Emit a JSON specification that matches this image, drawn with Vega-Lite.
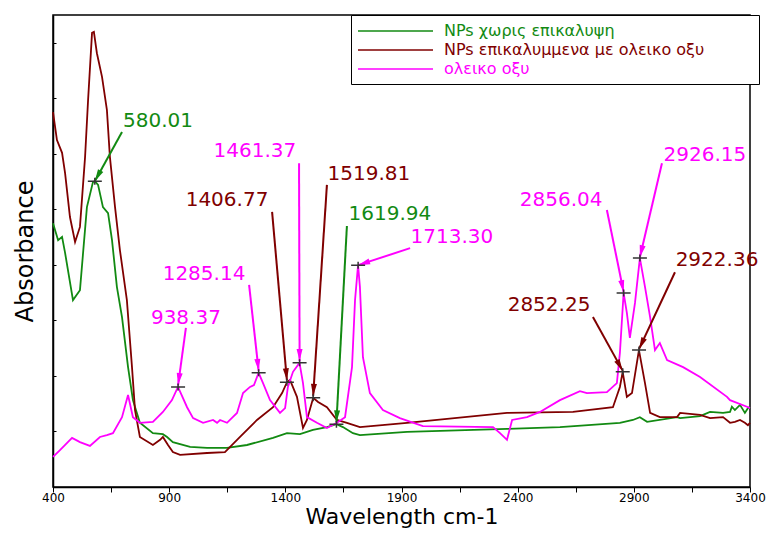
{
  "$schema": "https://vega.github.io/schema/vega-lite/v6.json",
  "width": 697,
  "height": 472,
  "autosize": {"type": "none"},
  "padding": {"left": 53, "top": 15, "right": 21, "bottom": 47},
  "background": "white",
  "config": {
    "font": "DejaVu Sans",
    "view": {"stroke": "black", "strokeWidth": 1.5},
    "axis": {"grid": false, "domainColor": "black", "domainWidth": 1.5, "tickColor": "black", "labelColor": "black", "titleColor": "black", "titleFontWeight": "normal", "labelFont": "DejaVu Sans", "titleFont": "DejaVu Sans"}
  },
  "datasets": {
    "green": [
      {"x": 400, "y": 55.9}, {"x": 422, "y": 52.3}, {"x": 439, "y": 53.0}, {"x": 452, "y": 49.6}, {"x": 486, "y": 39.6},
      {"x": 516, "y": 41.7}, {"x": 546, "y": 59.3}, {"x": 572, "y": 64.6}, {"x": 580, "y": 64.8}, {"x": 594, "y": 64.0},
      {"x": 615, "y": 59.3}, {"x": 637, "y": 58.0}, {"x": 654, "y": 52.3}, {"x": 675, "y": 42.4}, {"x": 697, "y": 36.0},
      {"x": 723, "y": 25.4}, {"x": 744, "y": 18.4}, {"x": 774, "y": 13.6}, {"x": 830, "y": 11.4}, {"x": 873, "y": 11.2},
      {"x": 891, "y": 10.6}, {"x": 916, "y": 9.5}, {"x": 990, "y": 8.5}, {"x": 1063, "y": 8.3}, {"x": 1149, "y": 8.3},
      {"x": 1235, "y": 8.9}, {"x": 1347, "y": 10.4}, {"x": 1407, "y": 11.4}, {"x": 1463, "y": 11.2}, {"x": 1519, "y": 12.1},
      {"x": 1579, "y": 12.7}, {"x": 1620, "y": 13.3}, {"x": 1648, "y": 12.7}, {"x": 1691, "y": 11.4}, {"x": 1721, "y": 11.0},
      {"x": 1924, "y": 11.7}, {"x": 2354, "y": 12.3}, {"x": 2582, "y": 12.7}, {"x": 2840, "y": 13.6}, {"x": 2896, "y": 14.2},
      {"x": 2926, "y": 14.8}, {"x": 2957, "y": 13.8}, {"x": 3086, "y": 14.8}, {"x": 3099, "y": 14.6}, {"x": 3185, "y": 15.0},
      {"x": 3228, "y": 15.9}, {"x": 3284, "y": 15.7}, {"x": 3314, "y": 15.9}, {"x": 3322, "y": 17.0}, {"x": 3335, "y": 16.3},
      {"x": 3357, "y": 17.4}, {"x": 3378, "y": 15.7}, {"x": 3391, "y": 16.7}, {"x": 3400, "y": 17.0}
    ],
    "maroon": [
      {"x": 400, "y": 79.4}, {"x": 417, "y": 73.5}, {"x": 439, "y": 70.8}, {"x": 452, "y": 66.5}, {"x": 473, "y": 57.2},
      {"x": 495, "y": 51.9}, {"x": 516, "y": 55.1}, {"x": 538, "y": 69.9}, {"x": 551, "y": 82.0}, {"x": 568, "y": 96.2},
      {"x": 576, "y": 96.4}, {"x": 589, "y": 91.9}, {"x": 611, "y": 86.9}, {"x": 632, "y": 79.9}, {"x": 645, "y": 69.9},
      {"x": 667, "y": 59.3}, {"x": 688, "y": 50.2}, {"x": 718, "y": 39.6}, {"x": 740, "y": 25.4}, {"x": 753, "y": 16.3},
      {"x": 774, "y": 10.6}, {"x": 830, "y": 8.9}, {"x": 861, "y": 10.0}, {"x": 873, "y": 10.6}, {"x": 895, "y": 8.9},
      {"x": 916, "y": 7.4}, {"x": 947, "y": 6.8}, {"x": 1063, "y": 7.2}, {"x": 1140, "y": 7.4}, {"x": 1205, "y": 10.6},
      {"x": 1278, "y": 14.2}, {"x": 1347, "y": 16.9}, {"x": 1386, "y": 19.9}, {"x": 1407, "y": 22.2}, {"x": 1420, "y": 22.7},
      {"x": 1450, "y": 19.1}, {"x": 1476, "y": 12.5}, {"x": 1493, "y": 14.2}, {"x": 1520, "y": 18.9}, {"x": 1541, "y": 18.0},
      {"x": 1579, "y": 16.9}, {"x": 1622, "y": 14.2}, {"x": 1665, "y": 13.6}, {"x": 1721, "y": 12.7}, {"x": 1924, "y": 13.6},
      {"x": 2354, "y": 15.7}, {"x": 2638, "y": 15.9}, {"x": 2810, "y": 16.9}, {"x": 2840, "y": 21.2}, {"x": 2852, "y": 24.4},
      {"x": 2870, "y": 19.1}, {"x": 2892, "y": 19.9}, {"x": 2922, "y": 29.0}, {"x": 2948, "y": 22.0}, {"x": 2970, "y": 15.7},
      {"x": 3012, "y": 14.8}, {"x": 3086, "y": 14.8}, {"x": 3099, "y": 15.7}, {"x": 3185, "y": 15.3}, {"x": 3228, "y": 14.6},
      {"x": 3284, "y": 14.8}, {"x": 3314, "y": 13.6}, {"x": 3335, "y": 13.8}, {"x": 3357, "y": 14.2}, {"x": 3378, "y": 13.6},
      {"x": 3391, "y": 13.1}, {"x": 3400, "y": 13.6}
    ],
    "magenta": [
      {"x": 400, "y": 6.4}, {"x": 430, "y": 7.8}, {"x": 482, "y": 10.4}, {"x": 516, "y": 9.5}, {"x": 559, "y": 8.7},
      {"x": 602, "y": 10.6}, {"x": 632, "y": 11.0}, {"x": 658, "y": 11.4}, {"x": 697, "y": 14.8}, {"x": 723, "y": 19.5},
      {"x": 744, "y": 14.8}, {"x": 774, "y": 13.6}, {"x": 830, "y": 13.8}, {"x": 873, "y": 15.9}, {"x": 912, "y": 18.4},
      {"x": 938, "y": 21.2}, {"x": 977, "y": 16.9}, {"x": 1003, "y": 14.6}, {"x": 1046, "y": 13.6}, {"x": 1089, "y": 14.2},
      {"x": 1106, "y": 13.6}, {"x": 1119, "y": 14.2}, {"x": 1149, "y": 13.6}, {"x": 1192, "y": 15.7}, {"x": 1218, "y": 19.9},
      {"x": 1248, "y": 21.2}, {"x": 1265, "y": 21.6}, {"x": 1285, "y": 24.2}, {"x": 1304, "y": 22.0}, {"x": 1334, "y": 18.4},
      {"x": 1377, "y": 15.7}, {"x": 1399, "y": 16.7}, {"x": 1411, "y": 21.2}, {"x": 1433, "y": 24.4}, {"x": 1461, "y": 26.3},
      {"x": 1476, "y": 22.0}, {"x": 1493, "y": 14.8}, {"x": 1536, "y": 13.6}, {"x": 1579, "y": 12.5}, {"x": 1622, "y": 13.6},
      {"x": 1657, "y": 14.8}, {"x": 1687, "y": 25.4}, {"x": 1700, "y": 39.6}, {"x": 1713, "y": 47.0}, {"x": 1721, "y": 42.4},
      {"x": 1734, "y": 27.5}, {"x": 1764, "y": 19.9}, {"x": 1820, "y": 16.3}, {"x": 1893, "y": 14.6}, {"x": 1992, "y": 12.9},
      {"x": 2294, "y": 12.7}, {"x": 2324, "y": 11.4}, {"x": 2354, "y": 10.0}, {"x": 2376, "y": 14.2}, {"x": 2440, "y": 14.8},
      {"x": 2496, "y": 15.9}, {"x": 2582, "y": 18.4}, {"x": 2668, "y": 20.3}, {"x": 2698, "y": 19.9}, {"x": 2784, "y": 20.1},
      {"x": 2827, "y": 22.0}, {"x": 2840, "y": 28.4}, {"x": 2856, "y": 41.1}, {"x": 2870, "y": 36.9}, {"x": 2883, "y": 31.6},
      {"x": 2905, "y": 39.0}, {"x": 2926, "y": 48.5}, {"x": 2948, "y": 42.4}, {"x": 2970, "y": 36.0}, {"x": 2991, "y": 29.0},
      {"x": 3012, "y": 30.5}, {"x": 3043, "y": 26.9}, {"x": 3112, "y": 25.4}, {"x": 3185, "y": 23.3}, {"x": 3301, "y": 19.1},
      {"x": 3314, "y": 18.4}, {"x": 3387, "y": 17.0}, {"x": 3400, "y": 16.7}
    ],
    "peaks": [
      {"x": 580.01, "y": 64.8}, {"x": 938.37, "y": 21.2}, {"x": 1285.14, "y": 24.2}, {"x": 1406.77, "y": 22.2},
      {"x": 1461.37, "y": 26.3}, {"x": 1519.81, "y": 18.9}, {"x": 1619.94, "y": 13.3}, {"x": 1713.30, "y": 47.0},
      {"x": 2852.25, "y": 24.4}, {"x": 2856.04, "y": 41.1}, {"x": 2922.36, "y": 29.0}, {"x": 2926.15, "y": 48.5}
    ],
    "ann": [
      {"label": "580.01", "series": "NPs χωρις επικαλυψη", "tx": 852, "ty": 77.5, "x0": 697, "y0": 75.2, "x1": 580.01, "y1": 64.8},
      {"label": "938.37", "series": "ολεικο οξυ", "tx": 972, "ty": 35.8, "x0": 972, "y0": 33.7, "x1": 938.37, "y1": 21.6},
      {"label": "1285.14", "series": "ολεικο οξυ", "tx": 1050, "ty": 45.1, "x0": 1244, "y0": 42.8, "x1": 1285.14, "y1": 24.6},
      {"label": "1406.77", "series": "NPs επικαλυμμενα με ολεικο οξυ", "tx": 1149, "ty": 60.8, "x0": 1343, "y0": 58.3, "x1": 1406.77, "y1": 22.6},
      {"label": "1461.37", "series": "ολεικο οξυ", "tx": 1269, "ty": 71.2, "x0": 1459, "y0": 68.6, "x1": 1461.37, "y1": 26.7},
      {"label": "1519.81", "series": "NPs επικαλυμμενα με ολεικο οξυ", "tx": 1760, "ty": 66.3, "x0": 1579, "y0": 64.0, "x1": 1519.81, "y1": 19.3},
      {"label": "1619.94", "series": "NPs χωρις επικαλυψη", "tx": 1850, "ty": 57.8, "x0": 1665, "y0": 55.3, "x1": 1619.94, "y1": 13.7},
      {"label": "1713.30", "series": "ολεικο οξυ", "tx": 2117, "ty": 53.0, "x0": 1937, "y0": 50.6, "x1": 1713.30, "y1": 47.0},
      {"label": "2852.25", "series": "NPs επικαλυμμενα με ολεικο οξυ", "tx": 2535, "ty": 38.6, "x0": 2724, "y0": 36.0, "x1": 2852.25, "y1": 24.6},
      {"label": "2856.04", "series": "ολεικο οξυ", "tx": 2587, "ty": 60.8, "x0": 2784, "y0": 58.7, "x1": 2856.04, "y1": 41.3},
      {"label": "2926.15", "series": "ολεικο οξυ", "tx": 3206, "ty": 70.3, "x0": 3021, "y0": 68.6, "x1": 2926.15, "y1": 48.7},
      {"label": "2922.36", "series": "NPs επικαλυμμενα με ολεικο οξυ", "tx": 3258, "ty": 48.1, "x0": 3077, "y0": 45.5, "x1": 2922.36, "y1": 29.2}
    ]
  },
  "layer": [
    {
      "data": {"name": "green"},
      "mark": {"type": "line", "strokeWidth": 1.8},
      "encoding": {
        "x": {"field": "x", "type": "quantitative", "title": "Wavelength cm-1",
          "scale": {"domain": [400, 3400], "nice": false, "zero": false},
          "axis": {"values": [400, 525, 650, 775, 900, 1025, 1150, 1275, 1400, 1525, 1650, 1775, 1900, 2025, 2150, 2275, 2400, 2525, 2650, 2775, 2900, 3025, 3150, 3275, 3400],
            "labelExpr": "(datum.value - 400) % 500 == 0 ? '' + datum.value : ''",
            "labelFlush": false, "labelOverlap": false, "labelFontSize": 12, "labelPadding": 0, "tickSize": 5,
            "titleFontSize": 22, "titlePadding": 3}},
        "y": {"field": "y", "type": "quantitative", "title": "Absorbance",
          "scale": {"domain": [0, 100], "nice": false, "zero": false},
          "axis": {"labels": false, "tickSize": -3, "values": [0, 5.88, 11.76, 17.65, 23.53, 29.41, 35.29, 41.18, 47.06, 52.94, 58.82, 64.71, 70.59, 76.47, 82.35, 88.24, 94.12, 100],
            "titleFontSize": 24, "titlePadding": 15}},
        "color": {"datum": "NPs χωρις επικαλυψη", "type": "nominal",
          "scale": {"domain": ["NPs χωρις επικαλυψη", "NPs επικαλυμμενα με ολεικο οξυ", "ολεικο οξυ"], "range": ["#128a12", "#800000", "#ff00ff"]},
          "legend": {"orient": "none", "legendX": 298, "legendY": 0, "title": null, "strokeColor": "black", "fillColor": "white",
            "padding": 7, "symbolType": "M-1.125,0H8.25", "symbolSize": 256, "symbolStrokeWidth": 1.5, "labelOffset": 68,
            "labelFontSize": 16, "labelFont": "DejaVu Sans", "labelLimit": 600, "rowPadding": 2,
            "labelExpr": "datum.label + '\u2800\u2800\u2800\u2800'",
            "encode": {"labels": {"update": {"fill": {"scale": "color", "field": "value"}}},
                       "symbols": {"update": {"stroke": {"scale": "color", "field": "value"}, "strokeWidth": {"value": 1.5}}}}}}
      }
    },
    {
      "data": {"name": "maroon"},
      "mark": {"type": "line", "strokeWidth": 1.8},
      "encoding": {
        "x": {"field": "x", "type": "quantitative", "title": "Wavelength cm-1"},
        "y": {"field": "y", "type": "quantitative", "title": "Absorbance"},
        "color": {"datum": "NPs επικαλυμμενα με ολεικο οξυ", "type": "nominal"}
      }
    },
    {
      "data": {"name": "magenta"},
      "mark": {"type": "line", "strokeWidth": 1.8},
      "encoding": {
        "x": {"field": "x", "type": "quantitative", "title": "Wavelength cm-1"},
        "y": {"field": "y", "type": "quantitative", "title": "Absorbance"},
        "color": {"datum": "ολεικο οξυ", "type": "nominal"}
      }
    },
    {
      "data": {"name": "ann"},
      "mark": {"type": "rule", "strokeWidth": 2},
      "encoding": {
        "x": {"field": "x0", "type": "quantitative", "title": "Wavelength cm-1"},
        "y": {"field": "y0", "type": "quantitative", "title": "Absorbance"},
        "x2": {"field": "x1"},
        "y2": {"field": "y1"},
        "color": {"field": "series", "type": "nominal", "legend": null}
      }
    },
    {
      "data": {"name": "ann"},
      "transform": [{"calculate": "atan2((datum.x1 - datum.x0) * 0.23233, (datum.y1 - datum.y0) * 4.72) * 180 / PI", "as": "ang"}],
      "mark": {"type": "point", "shape": "M0,0L0.5,2L-0.5,2Z", "size": 144, "filled": true, "opacity": 1, "strokeWidth": 0},
      "encoding": {
        "x": {"field": "x1", "type": "quantitative", "title": "Wavelength cm-1"},
        "y": {"field": "y1", "type": "quantitative", "title": "Absorbance"},
        "angle": {"field": "ang", "type": "quantitative", "scale": null},
        "color": {"field": "series", "type": "nominal", "legend": null}
      }
    },
    {
      "data": {"name": "peaks"},
      "mark": {"type": "point", "shape": "M-1,0H1M0,-0.5V0.5", "size": 196, "filled": false, "stroke": "#333333", "strokeWidth": 1.5, "opacity": 1},
      "encoding": {
        "x": {"field": "x", "type": "quantitative", "title": "Wavelength cm-1"},
        "y": {"field": "y", "type": "quantitative", "title": "Absorbance"}
      }
    },
    {
      "data": {"name": "ann"},
      "mark": {"type": "text", "fontSize": 20, "align": "center", "baseline": "middle", "font": "DejaVu Sans"},
      "encoding": {
        "x": {"field": "tx", "type": "quantitative", "title": "Wavelength cm-1"},
        "y": {"field": "ty", "type": "quantitative", "title": "Absorbance"},
        "text": {"field": "label"},
        "color": {"field": "series", "type": "nominal", "legend": null}
      }
    }
  ]
}
